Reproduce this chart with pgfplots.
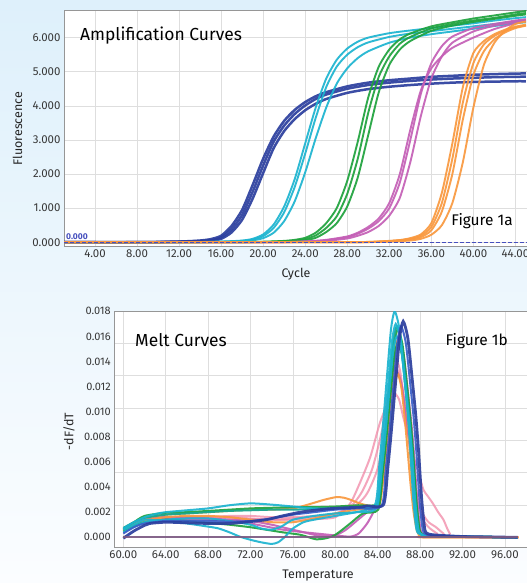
\documentclass[border=0pt]{standalone}
\usepackage{fontspec}
\setmainfont{Fira Sans}
\usepackage{pgfplots}
\pgfplotsset{compat=1.18}
\definecolor{bgtop}{RGB}{222,240,251}
\definecolor{bgbot}{RGB}{251,253,255}
\definecolor{axisgray}{RGB}{150,150,150}
\definecolor{gridgray}{RGB}{222,222,222}
\definecolor{labelgray}{RGB}{55,55,55}
\definecolor{cblue}{RGB}{43,62,158}
\definecolor{cmblue}{RGB}{58,94,200}
\definecolor{ccyan}{RGB}{28,180,208}
\definecolor{cteal}{RGB}{16,168,146}
\definecolor{cgreen}{RGB}{30,162,60}
\definecolor{cmag}{RGB}{196,95,182}
\definecolor{corange}{RGB}{249,152,62}
\definecolor{cpink}{RGB}{240,128,160}
\definecolor{cntc}{RGB}{124,90,130}
\definecolor{thr}{RGB}{70,80,190}
\pgfplotsset{
  mystyle/.style={
    scale only axis, anchor=south west, clip=true,
    axis line style={draw=axisgray, line width=0.8bp},
    major tick length=0pt, minor tick length=0pt,
    grid style={draw=gridgray, line width=0.6bp},
    minor grid style={draw=gridgray, line width=0.6bp},
    axis background/.style={fill=white},
    ticklabel style={font=\fontsize{11.5}{13}\selectfont, text=labelgray},
    /pgf/number format/assume math mode=true,
    scaled y ticks=false, scaled x ticks=false,
    every axis plot/.append style={smooth, tension=0.4, line width=2bp, opacity=0.92},
  }
}
\begin{document}
\begin{tikzpicture}[x=1bp,y=1bp]
\useasboundingbox (0,0) rectangle (527,583);
\clip (0,0) rectangle (527,583);
\shade[top color=bgtop, bottom color=bgbot] (0,0) rectangle (527,583);

% ---------------- Amplification curves ----------------
\begin{axis}[mystyle,
  at={(64bp,337bp)}, width=480bp, height=236bp,
  xmin=1.05, xmax=46.72, ymin=-110, ymax=6810,
  xtick={4,8,12,16,20,24,28,32,36,40,44},
  xticklabels={4.00,8.00,12.00,16.00,20.00,24.00,28.00,32.00,36.00,40.00,44.00},
  ytick={0,1000,2000,3000,4000,5000,6000},
  yticklabels={0.000,1.000,2.000,3.000,4.000,5.000,6.000},
  xmajorgrids, ymajorgrids,
  every axis plot/.append style={line width=1.9bp},
]
% dark blue
\addplot[cblue, line width=2.5bp] coordinates {(1,0)(8,0)(10,8)(12,20)(13,32)(14,50)(15,90)(16,190)(17,480)(18,950)(19,1680)(20,2450)(21,3100)(22,3560)(23,3880)(24,4110)(25,4280)(26,4400)(28,4570)(30,4680)(32,4750)(34,4800)(36,4850)(38,4880)(40,4910)(42,4930)(44,4945)(45,4950)};
\addplot[cblue, line width=2.5bp] coordinates {(1,0)(8,0)(10,5)(12,12)(13,20)(14,25)(15,45)(16,100)(17,290)(18,660)(19,1280)(20,2030)(21,2760)(22,3260)(23,3610)(24,3870)(25,4060)(26,4200)(28,4380)(30,4490)(32,4560)(34,4610)(36,4650)(38,4680)(40,4700)(42,4710)(44,4720)(45,4720)};
\addplot[cblue, line width=2.5bp] coordinates {(1,0)(8,0)(10,6)(12,15)(13,25)(14,35)(15,60)(16,140)(17,380)(18,800)(19,1480)(20,2250)(21,2950)(22,3420)(23,3760)(24,4010)(25,4200)(26,4330)(28,4500)(30,4610)(32,4680)(34,4730)(36,4770)(38,4800)(40,4820)(42,4840)(44,4850)(45,4855)};
% cyan
\addplot[ccyan] coordinates {(1,0)(12,0)(16,15)(18,40)(19,80)(20,180)(21,420)(22,880)(23,1620)(24,2600)(25,3650)(26,4550)(27,5150)(28,5500)(29,5720)(30,5860)(32,6020)(34,6120)(36,6190)(38,6260)(40,6330)(42,6400)(44,6470)(45,6500)};
\addplot[ccyan] coordinates {(1,0)(12,0)(16,10)(18,30)(19,55)(20,120)(21,280)(22,620)(23,1200)(24,2050)(25,3050)(26,3950)(27,4650)(28,5100)(29,5400)(30,5600)(32,5850)(34,6000)(36,6100)(38,6180)(40,6260)(42,6340)(44,6420)(45,6450)};
\addplot[ccyan] coordinates {(1,0)(12,0)(16,20)(18,50)(19,100)(20,230)(21,520)(22,1050)(23,1850)(24,2900)(25,3950)(26,4800)(27,5350)(28,5680)(29,5880)(30,6000)(32,6130)(34,6210)(36,6280)(38,6350)(40,6420)(42,6500)(44,6570)(45,6600)};
% green
\addplot[cgreen] coordinates {(1,0)(16,0)(20,10)(22,30)(23,50)(24,90)(25,200)(26,420)(27,760)(28,1420)(29,2450)(30,3800)(31,4850)(32,5450)(33,5820)(34,6020)(36,6270)(38,6400)(40,6500)(42,6580)(44,6680)(45,6720)};
\addplot[cgreen] coordinates {(1,0)(16,0)(20,5)(22,20)(23,35)(24,60)(25,130)(26,300)(27,560)(28,1050)(29,1900)(30,3150)(31,4400)(32,5200)(33,5650)(34,5900)(36,6200)(38,6350)(40,6460)(42,6550)(44,6640)(45,6680)};
\addplot[cgreen] coordinates {(1,0)(16,0)(20,15)(22,40)(23,70)(24,130)(25,280)(26,560)(27,1000)(28,1800)(29,2950)(30,4250)(31,5150)(32,5650)(33,5950)(34,6120)(36,6330)(38,6450)(40,6560)(42,6650)(44,6740)(45,6780)};
% magenta
\addplot[cmag] coordinates {(1,0)(20,0)(24,20)(26,60)(28,150)(29,250)(30,400)(31,620)(32,1000)(33,1750)(34,3000)(35,4350)(36,5250)(37,5750)(38,6030)(40,6280)(42,6400)(44,6500)(45,6540)};
\addplot[cmag] coordinates {(1,0)(20,0)(24,12)(26,40)(28,110)(29,190)(30,300)(31,480)(32,780)(33,1300)(34,2350)(35,3700)(36,4800)(37,5450)(38,5850)(40,6180)(42,6350)(44,6470)(45,6520)};
\addplot[cmag] coordinates {(1,0)(20,0)(24,25)(26,70)(28,170)(29,280)(30,450)(31,700)(32,1150)(33,2000)(34,3300)(35,4450)(36,5100)(37,5450)(38,5700)(40,6000)(42,6250)(44,6420)(45,6480)};
% orange
\addplot[corange] coordinates {(1,0)(26,0)(30,10)(32,40)(33,60)(34,120)(35,230)(36,560)(37,1450)(38,2900)(39,4550)(40,5550)(41,5900)(42,6100)(43,6230)(44,6320)(45,6380)};
\addplot[corange] coordinates {(1,0)(26,0)(30,8)(32,35)(34,100)(35,190)(36,450)(37,1150)(38,2450)(39,4100)(40,5250)(41,5800)(42,6050)(43,6200)(44,6300)(45,6360)};
\addplot[corange] coordinates {(1,0)(26,0)(30,5)(32,30)(34,80)(35,150)(36,350)(37,900)(38,2000)(39,3600)(40,4900)(41,5600)(42,5950)(43,6150)(44,6280)(45,6350)};
\addplot[corange] coordinates {(1,0)(26,0)(30,3)(32,20)(34,50)(35,100)(36,220)(37,500)(38,1150)(39,2350)(40,3950)(41,5200)(42,5850)(43,6200)(44,6400)(45,6470)};
% threshold
\addplot[thr, sharp plot, opacity=1, line width=1.2bp, dash pattern=on 4bp off 2bp] coordinates {(1.05,0)(46.7,0)};
\end{axis}

% ---------------- Melt curves ----------------
\begin{axis}[mystyle,
  at={(114.3bp,35.3bp)}, width=450bp, height=236.4bp,
  xmin=59.15, xmax=101.6, ymin=-0.00083, ymax=0.018,
  xtick={60,64,68,72,76,80,84,88,92,96},
  xticklabels={60.00,64.00,68.00,72.00,76.00,80.00,84.00,88.00,92.00,96.00},
  extra x ticks={100}, extra x tick labels={},
  ytick={0,0.002,0.004,0.006,0.008,0.010,0.012,0.014,0.016,0.018},
  yticklabels={0.000,0.002,0.004,0.006,0.008,0.010,0.012,0.014,0.016,0.018},
  yticklabel style={font=\fontsize{11}{12}\selectfont},
  minor ytick={0.002575,0.00515,0.007725,0.0103,0.012875,0.01545},
  xmajorgrids, yminorgrids,
]
% pink
\addplot[cpink, opacity=0.7] coordinates {(60,0.0007)(61,0.0012)(62,0.0015)(64,0.0016)(66,0.0016)(68,0.00165)(70,0.0016)(72,0.0015)(74,0.0014)(76,0.0014)(78,0.00145)(80,0.0016)(81.4,0.0027)(82.3,0.0043)(83.3,0.0064)(84.2,0.0091)(85.0,0.0108)(85.5,0.0115)(86.0,0.0110)(86.4,0.0096)(86.9,0.0080)(87.4,0.0064)(87.9,0.0050)(88.3,0.0038)(88.7,0.0033)(89.2,0.0027)(89.7,0.0020)(90.2,0.0014)(90.5,0.0008)(90.8,0.0003)(91.2,0.00005)(97.2,0)};
\addplot[cpink, opacity=0.7] coordinates {(60,0.00065)(62,0.0014)(64,0.0015)(66,0.00155)(68,0.0015)(70,0.0015)(72,0.00145)(74,0.0014)(76,0.0015)(78,0.0016)(80,0.0018)(81.5,0.0025)(82.5,0.0036)(83.5,0.0055)(84.4,0.0085)(85.0,0.0116)(85.6,0.0135)(86.1,0.0128)(86.6,0.0105)(87.0,0.0078)(87.4,0.0050)(87.8,0.0030)(88.3,0.0018)(88.8,0.0012)(89.5,0.0008)(90.2,0.0003)(90.8,0.00005)(97.2,0)};
\addplot[cpink, opacity=0.7] coordinates {(60,0.0006)(62,0.0013)(64,0.0015)(66,0.0016)(68,0.0016)(70,0.0017)(72,0.0017)(74,0.0016)(76,0.0016)(78,0.0017)(80,0.0019)(82,0.0026)(83,0.0035)(84,0.0055)(84.8,0.0090)(85.3,0.0125)(85.7,0.0142)(86.1,0.0133)(86.5,0.0108)(86.9,0.0080)(87.3,0.0052)(87.7,0.0030)(88.2,0.0015)(88.8,0.0008)(89.6,0.0003)(90.3,0.00005)(97.2,0)};
% magenta
\addplot[cmag] coordinates {(60,0.00055)(61,0.0010)(62,0.0014)(64,0.0015)(66,0.00145)(68,0.0014)(70,0.0013)(72,0.0011)(73.5,0.00085)(75.1,0.0006)(76.5,0.00045)(78.2,0.0003)(80,0.00015)(81.4,0.00005)(82.2,0.0003)(83,0.0011)(83.6,0.0020)(84.15,0.0028)(84.55,0.00506)(84.9,0.0079)(85.25,0.01106)(85.65,0.01454)(86.0,0.0158)(86.45,0.01454)(86.9,0.01122)(87.2,0.00885)(87.45,0.00632)(87.75,0.00269)(88.05,0.00055)(88.45,0.0002)(89.5,0.0001)(92,0.00005)(97.2,0)};
\addplot[cmag] coordinates {(60,0.0006)(62,0.0015)(64,0.0016)(66,0.0016)(68,0.0015)(70,0.0014)(72,0.0013)(74,0.0010)(75,0.0008)(76,0.0006)(77,0.0004)(78,0.0002)(79,0.0001)(80,0.00015)(81,0.0006)(82,0.0013)(83,0.0020)(83.95,0.0026)(84.35,0.00422)(84.7,0.0066)(85.05,0.00924)(85.45,0.01214)(85.8,0.0132)(86.25,0.01214)(86.7,0.00937)(87.0,0.00739)(87.25,0.00528)(87.55,0.00224)(87.85,0.00046)(88.25,0.0002)(89.3,0.0001)(92,0.00005)(97.2,0)};
% orange
\addplot[corange] coordinates {(60,0.0006)(61,0.0011)(62,0.0015)(64,0.0018)(66,0.0019)(68,0.0020)(70,0.0021)(72,0.0022)(74,0.0022)(76,0.0023)(77,0.0025)(78.2,0.0028)(79,0.0030)(80.1,0.0032)(80.8,0.00315)(81.4,0.0030)(82.3,0.0027)(83.3,0.0025)(84.15,0.0027)(84.55,0.0051)(84.9,0.0080)(85.25,0.0112)(85.65,0.0147)(86.0,0.0160)(86.35,0.0145)(86.7,0.0110)(86.95,0.0080)(87.2,0.0050)(87.5,0.0023)(87.8,0.0006)(88.1,0.0001)(88.4,0.0)(97.3,0)};
\addplot[corange] coordinates {(60,0.0005)(62,0.0013)(64,0.0016)(66,0.0017)(68,0.0017)(70,0.0016)(72,0.0014)(74,0.0012)(76,0.0012)(78,0.0015)(80,0.0019)(82,0.0022)(84.05,0.0024)(84.45,0.00416)(84.8,0.0065)(85.15,0.0091)(85.55,0.01196)(85.9,0.0130)(86.25,0.0118)(86.6,0.0090)(86.85,0.0066)(87.1,0.0042)(87.4,0.0019)(87.7,0.0005)(88.0,0.0001)(88.3,0.0)(97.3,0)};
% green
\addplot[cgreen] coordinates {(60,0.00065)(61,0.0012)(62,0.0017)(64,0.00195)(66,0.0020)(68,0.0021)(70,0.0022)(72,0.0023)(74,0.00235)(76,0.0024)(78,0.0024)(80,0.00245)(82,0.00255)(84.05,0.0027)(84.45,0.00531)(84.8,0.0083)(85.15,0.01162)(85.55,0.01527)(85.9,0.0166)(86.35,0.01527)(86.8,0.01179)(87.1,0.0093)(87.35,0.00664)(87.65,0.00282)(87.95,0.00058)(88.35,0.0002)(89.4,0.0001)(92,0.00005)(97.2,0)};
\addplot[cgreen] coordinates {(60,0.00045)(61,0.0009)(62,0.0012)(64,0.0014)(66,0.0013)(68,0.00115)(70,0.0010)(72,0.0008)(73.5,0.0006)(75,0.0004)(76.7,0.0002)(77.5,0.0)(78.2,-0.00016)(79,-0.0001)(79.8,0.0001)(80.5,0.0005)(81.4,0.0011)(82.6,0.0019)(84.05,0.0022)(84.45,0.00496)(84.8,0.00775)(85.15,0.01085)(85.55,0.01426)(85.9,0.0155)(86.35,0.01426)(86.8,0.01101)(87.1,0.00868)(87.35,0.0062)(87.65,0.00264)(87.95,0.00054)(88.35,0.0002)(89.4,0.0001)(92,0.00005)(97.2,0)};
% teal
\addplot[cteal] coordinates {(60,0.00075)(61,0.0012)(62,0.00155)(64,0.0018)(66,0.0019)(68,0.0020)(70,0.0021)(72,0.00215)(74,0.0022)(76,0.0022)(78,0.00225)(80,0.0023)(82,0.00235)(83.95,0.0025)(84.35,0.00538)(84.7,0.0084)(85.05,0.01176)(85.45,0.01546)(85.8,0.0168)(86.25,0.01546)(86.7,0.01193)(87.0,0.00941)(87.25,0.00672)(87.55,0.00286)(87.85,0.00059)(88.25,0.0002)(89.3,0.0001)(92,0.00005)(97.2,0)};
% cyan
\addplot[ccyan] coordinates {(60,0.0007)(61,0.0012)(62,0.0016)(63,0.00185)(64,0.0020)(66,0.00215)(68,0.0023)(70,0.00255)(72,0.0027)(74,0.0026)(76,0.00245)(78,0.0023)(80,0.0023)(82,0.0024)(83.75,0.0026)(84.15,0.00576)(84.5,0.0090)(84.85,0.0126)(85.25,0.01656)(85.6,0.0180)(86.05,0.01656)(86.5,0.01278)(86.8,0.01008)(87.05,0.0072)(87.35,0.00306)(87.65,0.00063)(88.05,0.00022)(89.1,0.0001)(92,0.00005)(97.2,0)};
\addplot[ccyan] coordinates {(60,0.0006)(61,0.0010)(62,0.0014)(63,0.00135)(64,0.0013)(66,0.0011)(68,0.00085)(69,0.0007)(70,0.0004)(71,0.00005)(72,-0.0002)(73,-0.0004)(74,-0.00053)(74.6,-0.0004)(75.2,0)(76,0.0007)(77,0.0012)(78,0.0014)(80,0.0017)(82,0.0020)(83,0.0022)(83.95,0.0025)(84.35,0.00512)(84.7,0.0080)(85.05,0.0112)(85.45,0.01472)(85.8,0.0160)(86.25,0.01472)(86.7,0.01136)(87.0,0.00896)(87.25,0.0064)(87.55,0.00272)(87.85,0.00056)(88.25,0.0002)(89.3,0.0001)(92,0.00005)(97.2,0)};
\addplot[ccyan] coordinates {(60,0.0004)(62,0.0012)(64,0.0014)(66,0.0015)(68,0.0015)(70,0.0013)(72,0.0010)(73,0.0007)(74,0.0006)(75,0.0009)(76,0.0014)(78,0.0017)(80,0.0019)(82,0.0020)(83.85,0.0023)(84.25,0.00544)(84.6,0.0085)(84.95,0.0119)(85.35,0.01564)(85.7,0.0170)(86.15,0.01564)(86.6,0.01207)(86.9,0.00952)(87.15,0.0068)(87.45,0.00289)(87.75,0.0006)(88.15,0.0002)(89.2,0.0001)(92,0.00005)(97.2,0)};
% blue
\addplot[cmblue] coordinates {(60,0.0003)(61,0.0008)(62,0.0011)(64,0.0013)(66,0.0013)(68,0.0013)(70,0.00125)(72,0.0013)(74,0.0015)(76,0.0018)(78,0.0020)(80,0.0022)(82,0.0023)(84.35,0.0025)(84.75,0.00538)(85.1,0.0084)(85.45,0.01176)(85.85,0.01546)(86.2,0.0168)(86.65,0.01546)(87.1,0.01193)(87.4,0.00941)(87.65,0.00672)(87.95,0.00286)(88.25,0.00059)(88.65,0.0002)(89.7,0.0001)(92.4,0.00005)(97.2,0)};
\addplot[cblue, line width=2.8bp] coordinates {(60,-0.00008)(61,0.0005)(62,0.00095)(62.5,0.0011)(64,0.0012)(66,0.00115)(68,0.0011)(70,0.0011)(72,0.00125)(73.5,0.0014)(75,0.0017)(76.7,0.0020)(78,0.00215)(79.8,0.0023)(82.3,0.0024)(83,0.0025)(84.55,0.0026)(84.95,0.0055)(85.3,0.0086)(85.65,0.0120)(86.05,0.0158)(86.4,0.0172)(86.85,0.0158)(87.3,0.0122)(87.6,0.0096)(87.85,0.0069)(88.15,0.0030)(88.45,0.0006)(88.85,0.00025)(90,0.00015)(92.4,0.00005)(97.2,0)};
% no-template control
\addplot[cntc, sharp plot, line width=1.6bp] coordinates {(60,0)(97.2,0)};
\end{axis}

% ---------------- texts ----------------
\node[rotate=90, font=\fontsize{12.5}{14}\selectfont, text=black!85] at (17.5,454.5) {Fluorescence};
\node[font=\fontsize{12.5}{14}\selectfont, text=black!85] at (296,309) {Cycle};
\node[rotate=90, font=\fontsize{12.5}{14}\selectfont, text=black!85] at (69,151.5) {-dF/dT};
\node[font=\fontsize{12.5}{14}\selectfont, text=black!85] at (318,7.5) {Temperature};
\node[anchor=west, inner sep=0pt, font=\fontsize{17.5}{20}\selectfont] at (80,547) {Amplification Curves};
\node[anchor=east, inner sep=0pt, font=\fontsize{15.5}{18}\selectfont] at (513,362) {Figure 1a};
\node[anchor=west, inner sep=0pt, font=\fontsize{17.5}{20}\selectfont] at (135,243) {Melt Curves};
\node[anchor=east, inner sep=0pt, font=\fontsize{15.5}{18}\selectfont] at (508,242) {Figure 1b};
\node[anchor=west, inner sep=0pt, text=thr, font=\bfseries\fontsize{8.5}{10}\selectfont] at (66,346.5) {0.000};
\end{tikzpicture}
\end{document}
